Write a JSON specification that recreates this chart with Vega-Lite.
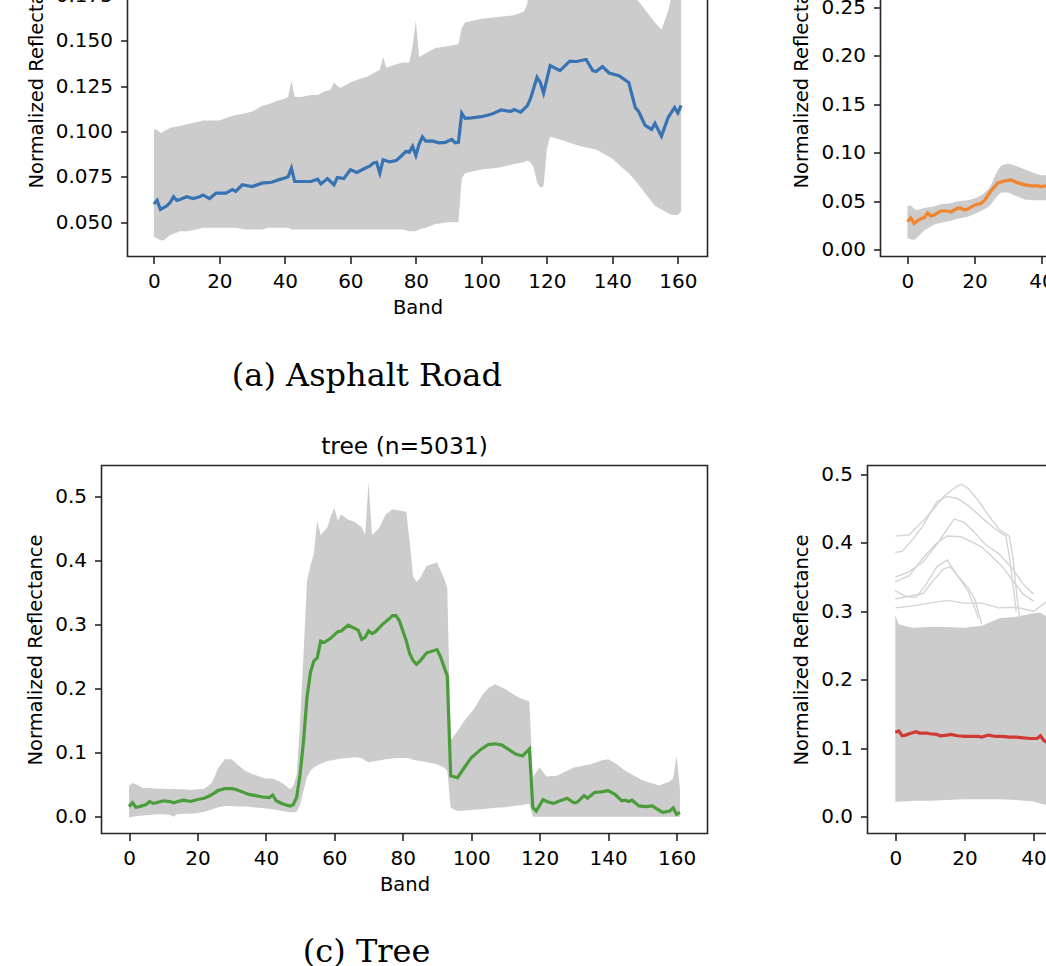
{
  "$schema": "https://vega.github.io/schema/vega-lite/v6.json",
  "background": "white",
  "padding": {"left": -61.5, "top": -112.5, "right": -425, "bottom": -3},
  "config": {
    "view": {"stroke": "#262626", "strokeWidth": 1.6},
    "axis": {"grid": false, "domain": false, "tickSize": 7, "tickWidth": 1.6, "tickColor": "#262626", "labelFont": "DejaVu Sans", "labelFontSize": 20, "labelColor": "#000000", "labelPadding": 8, "labelOverlap": false, "labelFlush": false, "titleFont": "DejaVu Sans", "titleFontSize": 19.5, "titleFontWeight": "normal", "titleColor": "#000000"},
    "axisX": {"titlePadding": 7},
    "axisY": {"titlePadding": 9},
    "title": {"font": "DejaVu Sans", "fontSize": 23.4, "fontWeight": "normal", "color": "#000000", "offset": 6, "frame": "group", "anchor": "middle"}
  },
  "datasets": {
    "spacer": [{}],
    "asphalt_env": [
      {"band":0,"lo":0.042,"hi":0.101},{"band":1,"lo":0.041,"hi":0.101},{"band":2,"lo":0.040,"hi":0.099},{"band":3,"lo":0.040,"hi":0.100},{"band":5,"lo":0.043,"hi":0.102},{"band":8,"lo":0.045,"hi":0.103},{"band":10,"lo":0.045,"hi":0.104},{"band":13,"lo":0.046,"hi":0.105},{"band":15,"lo":0.047,"hi":0.106},{"band":18,"lo":0.047,"hi":0.106},{"band":20,"lo":0.047,"hi":0.106},{"band":23,"lo":0.047,"hi":0.108},{"band":25,"lo":0.047,"hi":0.109},{"band":28,"lo":0.046,"hi":0.110},{"band":30,"lo":0.046,"hi":0.111},{"band":33,"lo":0.046,"hi":0.114},{"band":35,"lo":0.047,"hi":0.115},{"band":38,"lo":0.047,"hi":0.117},{"band":40,"lo":0.047,"hi":0.118},{"band":41,"lo":0.047,"hi":0.119},{"band":42,"lo":0.046,"hi":0.128},{"band":43,"lo":0.046,"hi":0.119},{"band":45,"lo":0.046,"hi":0.119},{"band":48,"lo":0.046,"hi":0.120},{"band":50,"lo":0.046,"hi":0.120},{"band":52,"lo":0.046,"hi":0.122},{"band":54,"lo":0.046,"hi":0.123},{"band":55,"lo":0.046,"hi":0.127},{"band":56,"lo":0.046,"hi":0.125},{"band":57,"lo":0.046,"hi":0.124},{"band":60,"lo":0.046,"hi":0.127},{"band":63,"lo":0.046,"hi":0.129},{"band":65,"lo":0.046,"hi":0.130},{"band":68,"lo":0.046,"hi":0.133},{"band":69,"lo":0.046,"hi":0.134},{"band":70,"lo":0.046,"hi":0.141},{"band":71,"lo":0.046,"hi":0.135},{"band":74,"lo":0.046,"hi":0.137},{"band":76,"lo":0.046,"hi":0.138},{"band":78,"lo":0.045,"hi":0.138},{"band":79,"lo":0.045,"hi":0.147},{"band":80,"lo":0.045,"hi":0.161},{"band":81,"lo":0.046,"hi":0.141},{"band":83,"lo":0.047,"hi":0.143},{"band":86,"lo":0.049,"hi":0.146},{"band":90,"lo":0.050,"hi":0.147},{"band":93,"lo":0.050,"hi":0.148},{"band":94,"lo":0.074,"hi":0.157},{"band":95,"lo":0.077,"hi":0.160},{"band":100,"lo":0.079,"hi":0.162},{"band":105,"lo":0.080,"hi":0.163},{"band":110,"lo":0.082,"hi":0.164},{"band":113,"lo":0.083,"hi":0.166},{"band":114,"lo":0.084,"hi":0.170},{"band":115,"lo":0.083,"hi":0.185},{"band":116,"lo":0.080,"hi":0.195},{"band":117,"lo":0.072,"hi":0.202},{"band":118,"lo":0.069,"hi":0.207},{"band":119,"lo":0.070,"hi":0.208},{"band":120,"lo":0.090,"hi":0.214},{"band":121,"lo":0.097,"hi":0.219},{"band":125,"lo":0.095,"hi":0.223},{"band":130,"lo":0.092,"hi":0.224},{"band":135,"lo":0.090,"hi":0.222},{"band":140,"lo":0.085,"hi":0.216},{"band":143,"lo":0.080,"hi":0.206},{"band":145,"lo":0.077,"hi":0.190},{"band":147,"lo":0.073,"hi":0.174},{"band":150,"lo":0.066,"hi":0.167},{"band":153,"lo":0.059,"hi":0.160},{"band":155,"lo":0.057,"hi":0.156},{"band":157,"lo":0.055,"hi":0.166},{"band":158,"lo":0.054,"hi":0.174},{"band":160,"lo":0.054,"hi":0.195},{"band":161,"lo":0.056,"hi":0.210}
    ],
    "asphalt_mean": [
      {"band":0,"r":0.060},{"band":1,"r":0.062},{"band":2,"r":0.057},{"band":3,"r":0.058},{"band":4,"r":0.059},{"band":5,"r":0.061},{"band":6,"r":0.064},{"band":7,"r":0.062},{"band":8,"r":0.0625},{"band":10,"r":0.064},{"band":12,"r":0.063},{"band":14,"r":0.064},{"band":15,"r":0.065},{"band":17,"r":0.063},{"band":19,"r":0.066},{"band":22,"r":0.066},{"band":24,"r":0.068},{"band":25,"r":0.067},{"band":27,"r":0.0706},{"band":30,"r":0.0696},{"band":33,"r":0.0715},{"band":36,"r":0.072},{"band":38,"r":0.0733},{"band":40,"r":0.0743},{"band":41,"r":0.075},{"band":42,"r":0.0798},{"band":43,"r":0.0724},{"band":45,"r":0.0724},{"band":48,"r":0.0724},{"band":50,"r":0.0737},{"band":51,"r":0.0711},{"band":53,"r":0.074},{"band":55,"r":0.0706},{"band":56,"r":0.0746},{"band":58,"r":0.074},{"band":60,"r":0.0789},{"band":62,"r":0.0774},{"band":64,"r":0.0793},{"band":66,"r":0.081},{"band":67,"r":0.0826},{"band":68,"r":0.083},{"band":69,"r":0.077},{"band":70,"r":0.0844},{"band":72,"r":0.0832},{"band":74,"r":0.084},{"band":75,"r":0.0855},{"band":77,"r":0.089},{"band":78,"r":0.0885},{"band":79,"r":0.0918},{"band":80,"r":0.0867},{"band":81,"r":0.093},{"band":82,"r":0.097},{"band":83,"r":0.0946},{"band":85,"r":0.0948},{"band":87,"r":0.0937},{"band":89,"r":0.094},{"band":91,"r":0.0956},{"band":92,"r":0.0937},{"band":93,"r":0.094},{"band":94,"r":0.110},{"band":95,"r":0.1072},{"band":97,"r":0.1075},{"band":100,"r":0.1081},{"band":103,"r":0.1094},{"band":106,"r":0.1118},{"band":109,"r":0.111},{"band":110,"r":0.112},{"band":112,"r":0.1106},{"band":114,"r":0.1141},{"band":115,"r":0.118},{"band":117,"r":0.1298},{"band":118,"r":0.127},{"band":119,"r":0.1211},{"band":121,"r":0.1363},{"band":124,"r":0.1335},{"band":127,"r":0.1387},{"band":129,"r":0.1385},{"band":132,"r":0.1396},{"band":134,"r":0.1335},{"band":135,"r":0.133},{"band":137,"r":0.1357},{"band":139,"r":0.1322},{"band":142,"r":0.1307},{"band":145,"r":0.127},{"band":146,"r":0.120},{"band":147,"r":0.1132},{"band":148,"r":0.111},{"band":150,"r":0.1033},{"band":152,"r":0.1011},{"band":153,"r":0.1044},{"band":155,"r":0.0974},{"band":157,"r":0.1076},{"band":159,"r":0.1132},{"band":160,"r":0.1102},{"band":161,"r":0.1144}
    ],
    "orange_env": [
      {"band":0,"lo":0.012,"hi":0.045},{"band":1,"lo":0.011,"hi":0.046},{"band":2,"lo":0.010,"hi":0.042},{"band":3,"lo":0.013,"hi":0.041},{"band":5,"lo":0.020,"hi":0.043},{"band":8,"lo":0.026,"hi":0.045},{"band":10,"lo":0.028,"hi":0.047},{"band":13,"lo":0.030,"hi":0.048},{"band":15,"lo":0.032,"hi":0.050},{"band":18,"lo":0.034,"hi":0.051},{"band":20,"lo":0.037,"hi":0.053},{"band":22,"lo":0.040,"hi":0.056},{"band":24,"lo":0.044,"hi":0.062},{"band":25,"lo":0.047,"hi":0.067},{"band":26,"lo":0.052,"hi":0.075},{"band":27,"lo":0.056,"hi":0.082},{"band":28,"lo":0.059,"hi":0.087},{"band":30,"lo":0.059,"hi":0.089},{"band":32,"lo":0.056,"hi":0.087},{"band":35,"lo":0.052,"hi":0.083},{"band":38,"lo":0.051,"hi":0.079},{"band":40,"lo":0.051,"hi":0.077},{"band":42,"lo":0.051,"hi":0.077},{"band":44,"lo":0.051,"hi":0.076}
    ],
    "orange_mean": [
      {"band":0,"r":0.029},{"band":1,"r":0.033},{"band":2,"r":0.027},{"band":3,"r":0.030},{"band":4,"r":0.032},{"band":5,"r":0.033},{"band":6,"r":0.038},{"band":7,"r":0.035},{"band":8,"r":0.036},{"band":9,"r":0.038},{"band":10,"r":0.040},{"band":12,"r":0.040},{"band":13,"r":0.039},{"band":15,"r":0.043},{"band":16,"r":0.043},{"band":17,"r":0.041},{"band":18,"r":0.042},{"band":20,"r":0.046},{"band":22,"r":0.048},{"band":23,"r":0.051},{"band":24,"r":0.056},{"band":25,"r":0.061},{"band":26,"r":0.065},{"band":27,"r":0.069},{"band":29,"r":0.071},{"band":31,"r":0.072},{"band":33,"r":0.069},{"band":35,"r":0.067},{"band":37,"r":0.066},{"band":39,"r":0.066},{"band":40,"r":0.065},{"band":41,"r":0.066},{"band":42,"r":0.065},{"band":44,"r":0.065}
    ],
    "tree_env": [
      {"band":0,"lo":-0.001,"hi":0.048},{"band":1,"lo":0.000,"hi":0.053},{"band":2,"lo":0.001,"hi":0.051},{"band":4,"lo":0.002,"hi":0.045},{"band":6,"lo":0.003,"hi":0.045},{"band":8,"lo":0.004,"hi":0.044},{"band":10,"lo":0.004,"hi":0.044},{"band":12,"lo":0.003,"hi":0.043},{"band":13,"lo":0.000,"hi":0.044},{"band":14,"lo":0.004,"hi":0.043},{"band":16,"lo":0.005,"hi":0.043},{"band":18,"lo":0.005,"hi":0.042},{"band":20,"lo":0.006,"hi":0.043},{"band":22,"lo":0.008,"hi":0.044},{"band":24,"lo":0.011,"hi":0.052},{"band":25,"lo":0.013,"hi":0.062},{"band":26,"lo":0.015,"hi":0.076},{"band":28,"lo":0.017,"hi":0.090},{"band":30,"lo":0.017,"hi":0.090},{"band":32,"lo":0.016,"hi":0.080},{"band":34,"lo":0.016,"hi":0.072},{"band":36,"lo":0.015,"hi":0.067},{"band":38,"lo":0.014,"hi":0.063},{"band":40,"lo":0.013,"hi":0.060},{"band":42,"lo":0.012,"hi":0.060},{"band":44,"lo":0.010,"hi":0.055},{"band":46,"lo":0.008,"hi":0.048},{"band":47,"lo":0.007,"hi":0.043},{"band":48,"lo":0.007,"hi":0.048},{"band":49,"lo":0.008,"hi":0.066},{"band":50,"lo":0.020,"hi":0.150},{"band":51,"lo":0.041,"hi":0.254},{"band":52,"lo":0.062,"hi":0.368},{"band":53,"lo":0.072,"hi":0.392},{"band":54,"lo":0.077,"hi":0.410},{"band":55,"lo":0.080,"hi":0.462},{"band":56,"lo":0.083,"hi":0.440},{"band":58,"lo":0.087,"hi":0.452},{"band":59,"lo":0.088,"hi":0.470},{"band":60,"lo":0.089,"hi":0.482},{"band":61,"lo":0.090,"hi":0.462},{"band":62,"lo":0.091,"hi":0.472},{"band":64,"lo":0.092,"hi":0.464},{"band":66,"lo":0.093,"hi":0.460},{"band":68,"lo":0.092,"hi":0.452},{"band":69,"lo":0.088,"hi":0.440},{"band":70,"lo":0.085,"hi":0.522},{"band":71,"lo":0.086,"hi":0.440},{"band":73,"lo":0.088,"hi":0.450},{"band":75,"lo":0.090,"hi":0.472},{"band":77,"lo":0.091,"hi":0.480},{"band":79,"lo":0.092,"hi":0.478},{"band":81,"lo":0.092,"hi":0.476},{"band":82,"lo":0.091,"hi":0.430},{"band":83,"lo":0.089,"hi":0.375},{"band":84,"lo":0.088,"hi":0.367},{"band":85,"lo":0.087,"hi":0.372},{"band":87,"lo":0.085,"hi":0.392},{"band":90,"lo":0.082,"hi":0.397},{"band":92,"lo":0.077,"hi":0.373},{"band":93,"lo":0.072,"hi":0.357},{"band":94,"lo":0.014,"hi":0.119},{"band":96,"lo":0.009,"hi":0.134},{"band":98,"lo":0.010,"hi":0.150},{"band":101,"lo":0.011,"hi":0.170},{"band":103,"lo":0.012,"hi":0.188},{"band":105,"lo":0.013,"hi":0.201},{"band":107,"lo":0.014,"hi":0.207},{"band":110,"lo":0.015,"hi":0.199},{"band":114,"lo":0.018,"hi":0.186},{"band":117,"lo":0.020,"hi":0.180},{"band":118,"lo":0.000,"hi":0.061},{"band":119,"lo":0.000,"hi":0.070},{"band":120,"lo":0.000,"hi":0.077},{"band":122,"lo":0.000,"hi":0.063},{"band":125,"lo":0.000,"hi":0.064},{"band":128,"lo":0.000,"hi":0.072},{"band":130,"lo":0.000,"hi":0.077},{"band":133,"lo":0.000,"hi":0.080},{"band":135,"lo":0.000,"hi":0.082},{"band":138,"lo":0.000,"hi":0.088},{"band":140,"lo":0.000,"hi":0.090},{"band":142,"lo":0.000,"hi":0.084},{"band":145,"lo":0.000,"hi":0.072},{"band":148,"lo":0.000,"hi":0.063},{"band":150,"lo":0.000,"hi":0.057},{"band":153,"lo":0.000,"hi":0.052},{"band":155,"lo":0.000,"hi":0.049},{"band":158,"lo":0.000,"hi":0.055},{"band":159,"lo":0.000,"hi":0.060},{"band":160,"lo":0.000,"hi":0.095},{"band":161,"lo":0.000,"hi":0.044}
    ],
    "tree_mean": [
      {"band":0,"r":0.016},{"band":1,"r":0.022},{"band":2,"r":0.015},{"band":3,"r":0.016},{"band":5,"r":0.019},{"band":6,"r":0.024},{"band":7,"r":0.021},{"band":8,"r":0.022},{"band":10,"r":0.025},{"band":12,"r":0.024},{"band":13,"r":0.022},{"band":15,"r":0.025},{"band":16,"r":0.026},{"band":18,"r":0.024},{"band":20,"r":0.027},{"band":22,"r":0.029},{"band":24,"r":0.034},{"band":26,"r":0.041},{"band":28,"r":0.044},{"band":30,"r":0.044},{"band":31,"r":0.043},{"band":33,"r":0.039},{"band":35,"r":0.035},{"band":37,"r":0.033},{"band":39,"r":0.031},{"band":41,"r":0.030},{"band":42,"r":0.034},{"band":43,"r":0.025},{"band":45,"r":0.020},{"band":47,"r":0.017},{"band":48,"r":0.019},{"band":49,"r":0.031},{"band":50,"r":0.067},{"band":51,"r":0.119},{"band":52,"r":0.186},{"band":53,"r":0.225},{"band":54,"r":0.243},{"band":55,"r":0.248},{"band":56,"r":0.274},{"band":57,"r":0.272},{"band":59,"r":0.279},{"band":61,"r":0.289},{"band":62,"r":0.290},{"band":64,"r":0.299},{"band":66,"r":0.294},{"band":67,"r":0.291},{"band":68,"r":0.277},{"band":69,"r":0.280},{"band":70,"r":0.290},{"band":71,"r":0.286},{"band":72,"r":0.289},{"band":74,"r":0.300},{"band":76,"r":0.309},{"band":77,"r":0.314},{"band":78,"r":0.314},{"band":79,"r":0.306},{"band":81,"r":0.275},{"band":82,"r":0.255},{"band":83,"r":0.244},{"band":84,"r":0.238},{"band":85,"r":0.243},{"band":87,"r":0.256},{"band":90,"r":0.261},{"band":91,"r":0.250},{"band":93,"r":0.220},{"band":94,"r":0.064},{"band":96,"r":0.061},{"band":98,"r":0.077},{"band":100,"r":0.092},{"band":103,"r":0.106},{"band":105,"r":0.113},{"band":107,"r":0.114},{"band":109,"r":0.112},{"band":111,"r":0.105},{"band":113,"r":0.098},{"band":115,"r":0.095},{"band":117,"r":0.106},{"band":118,"r":0.015},{"band":119,"r":0.009},{"band":121,"r":0.027},{"band":122,"r":0.024},{"band":124,"r":0.021},{"band":126,"r":0.025},{"band":128,"r":0.029},{"band":130,"r":0.022},{"band":131,"r":0.023},{"band":133,"r":0.033},{"band":134,"r":0.029},{"band":136,"r":0.038},{"band":138,"r":0.039},{"band":140,"r":0.041},{"band":142,"r":0.035},{"band":144,"r":0.025},{"band":145,"r":0.026},{"band":146,"r":0.024},{"band":147,"r":0.026},{"band":149,"r":0.017},{"band":151,"r":0.016},{"band":153,"r":0.017},{"band":154,"r":0.013},{"band":156,"r":0.007},{"band":158,"r":0.009},{"band":159,"r":0.014},{"band":160,"r":0.004},{"band":161,"r":0.007}
    ],
    "red_env": [
      {"band":0,"lo":0.021,"hi":0.294},{"band":1,"lo":0.022,"hi":0.281},{"band":3,"lo":0.022,"hi":0.278},{"band":5,"lo":0.023,"hi":0.276},{"band":10,"lo":0.023,"hi":0.277},{"band":15,"lo":0.024,"hi":0.277},{"band":20,"lo":0.025,"hi":0.276},{"band":25,"lo":0.025,"hi":0.279},{"band":28,"lo":0.025,"hi":0.285},{"band":30,"lo":0.025,"hi":0.290},{"band":35,"lo":0.024,"hi":0.292},{"band":40,"lo":0.022,"hi":0.297},{"band":42,"lo":0.019,"hi":0.298},{"band":44,"lo":0.016,"hi":0.292},{"band":46,"lo":0.015,"hi":0.290}
    ],
    "red_outliers": [
      {"id":"a","band":0,"r":0.410},{"id":"a","band":4,"r":0.412},{"id":"a","band":8,"r":0.432},{"id":"a","band":12,"r":0.455},{"id":"a","band":14,"r":0.468},{"id":"a","band":17,"r":0.480},{"id":"a","band":19,"r":0.486},{"id":"a","band":21,"r":0.480},{"id":"a","band":24,"r":0.462},{"id":"a","band":27,"r":0.440},{"id":"a","band":30,"r":0.420},{"id":"a","band":33,"r":0.410},{"id":"a","band":34,"r":0.380},{"id":"a","band":35,"r":0.330},{"id":"a","band":36,"r":0.290},
      {"id":"b","band":0,"r":0.386},{"id":"b","band":2,"r":0.388},{"id":"b","band":5,"r":0.405},{"id":"b","band":8,"r":0.425},{"id":"b","band":12,"r":0.460},{"id":"b","band":15,"r":0.468},{"id":"b","band":18,"r":0.465},{"id":"b","band":21,"r":0.455},{"id":"b","band":25,"r":0.437},{"id":"b","band":29,"r":0.420},{"id":"b","band":32,"r":0.410},{"id":"b","band":33,"r":0.380},{"id":"b","band":35,"r":0.300},
      {"id":"c","band":0,"r":0.350},{"id":"c","band":4,"r":0.358},{"id":"c","band":8,"r":0.372},{"id":"c","band":12,"r":0.398},{"id":"c","band":15,"r":0.420},{"id":"c","band":17,"r":0.435},{"id":"c","band":20,"r":0.430},{"id":"c","band":23,"r":0.415},{"id":"c","band":26,"r":0.398},{"id":"c","band":30,"r":0.384},{"id":"c","band":34,"r":0.362},{"id":"c","band":37,"r":0.340},{"id":"c","band":40,"r":0.325},
      {"id":"d","band":0,"r":0.343},{"id":"d","band":4,"r":0.352},{"id":"d","band":8,"r":0.378},{"id":"d","band":12,"r":0.400},{"id":"d","band":15,"r":0.410},{"id":"d","band":19,"r":0.409},{"id":"d","band":22,"r":0.402},{"id":"d","band":25,"r":0.394},{"id":"d","band":28,"r":0.380},{"id":"d","band":31,"r":0.365},{"id":"d","band":34,"r":0.345},{"id":"d","band":37,"r":0.325},{"id":"d","band":40,"r":0.315},
      {"id":"e","band":0,"r":0.330},{"id":"e","band":3,"r":0.322},{"id":"e","band":6,"r":0.320},{"id":"e","band":9,"r":0.340},{"id":"e","band":12,"r":0.365},{"id":"e","band":15,"r":0.375},{"id":"e","band":18,"r":0.352},{"id":"e","band":21,"r":0.335},{"id":"e","band":23,"r":0.318},{"id":"e","band":25,"r":0.281},
      {"id":"f","band":0,"r":0.318},{"id":"f","band":4,"r":0.322},{"id":"f","band":8,"r":0.326},{"id":"f","band":11,"r":0.345},{"id":"f","band":14,"r":0.362},{"id":"f","band":16,"r":0.365},{"id":"f","band":19,"r":0.345},{"id":"f","band":21,"r":0.330},{"id":"f","band":23,"r":0.305},{"id":"f","band":24,"r":0.290},
      {"id":"g","band":0,"r":0.305},{"id":"g","band":5,"r":0.308},{"id":"g","band":10,"r":0.312},{"id":"g","band":15,"r":0.316},{"id":"g","band":20,"r":0.312},{"id":"g","band":25,"r":0.312},{"id":"g","band":30,"r":0.305},{"id":"g","band":35,"r":0.306},{"id":"g","band":40,"r":0.300},{"id":"g","band":44,"r":0.315}
    ],
    "red_mean": [
      {"band":0,"r":0.123},{"band":1,"r":0.125},{"band":2,"r":0.118},{"band":3,"r":0.119},{"band":4,"r":0.121},{"band":6,"r":0.124},{"band":7,"r":0.122},{"band":9,"r":0.122},{"band":10,"r":0.121},{"band":12,"r":0.120},{"band":13,"r":0.118},{"band":15,"r":0.119},{"band":16,"r":0.120},{"band":18,"r":0.118},{"band":20,"r":0.117},{"band":22,"r":0.117},{"band":24,"r":0.117},{"band":25,"r":0.116},{"band":27,"r":0.119},{"band":29,"r":0.117},{"band":31,"r":0.117},{"band":33,"r":0.116},{"band":35,"r":0.116},{"band":37,"r":0.115},{"band":39,"r":0.114},{"band":41,"r":0.114},{"band":42,"r":0.118},{"band":43,"r":0.111},{"band":44,"r":0.108},{"band":46,"r":0.107}
    ]
  },
  "concat": [
    {
      "hconcat": [
        {
          "data": {"name": "spacer"},
          "width": 3.5, "height": 1,
          "view": {"stroke": null},
          "mark": {"type": "rect", "opacity": 0}
        },
        {
          "title": {"text": "(a) Asphalt Road", "orient": "bottom", "font": "DejaVu Serif", "fontSize": 32, "fontWeight": "normal", "offset": 43, "frame": "bounds", "anchor": "middle"},
          "vconcat": [
            {
              "width": 580, "height": 368,
              "layer": [
                {
                  "data": {"name": "asphalt_env"},
                  "mark": {"type": "area", "color": "#cccccc", "clip": true},
                  "encoding": {
                    "x": {"field": "band", "type": "quantitative", "scale": {"domain": [-8.05, 169.05], "nice": false, "zero": false}, "axis": {"values": [0, 20, 40, 60, 80, 100, 120, 140, 160], "title": "Band"}},
                    "y": {"field": "lo", "type": "quantitative", "scale": {"domain": [0.0311, 0.2338], "nice": false, "zero": false}, "axis": {"values": [0.05, 0.075, 0.1, 0.125, 0.15, 0.175, 0.2, 0.225], "format": ".3f", "title": "Normalized Reflectance"}},
                    "y2": {"field": "hi"}
                  }
                },
                {
                  "data": {"name": "asphalt_mean"},
                  "mark": {"type": "line", "color": "#3773b3", "strokeWidth": 3.2, "clip": true},
                  "encoding": {
                    "x": {"field": "band", "type": "quantitative", "scale": {"domain": [-8.05, 169.05], "nice": false, "zero": false}, "axis": {"values": [0, 20, 40, 60, 80, 100, 120, 140, 160], "title": "Band"}},
                    "y": {"field": "r", "type": "quantitative", "scale": {"domain": [0.0311, 0.2338], "nice": false, "zero": false}, "axis": {"values": [0.05, 0.075, 0.1, 0.125, 0.15, 0.175, 0.2, 0.225], "format": ".3f", "title": "Normalized Reflectance"}}
                  }
                }
              ]
            }
          ]
        },
        {
          "vconcat": [
            {
              "width": 593, "height": 368,
              "layer": [
                {
                  "data": {"name": "orange_env"},
                  "mark": {"type": "area", "color": "#cccccc", "clip": true},
                  "encoding": {
                    "x": {"field": "band", "type": "quantitative", "scale": {"domain": [-8.05, 169.05], "nice": false, "zero": false}, "axis": {"values": [0, 20, 40, 60, 80, 100, 120, 140, 160], "title": "Band"}},
                    "y": {"field": "lo", "type": "quantitative", "scale": {"domain": [-0.0069, 0.3726], "nice": false, "zero": false}, "axis": {"values": [0, 0.05, 0.1, 0.15, 0.2, 0.25, 0.3, 0.35], "format": ".2f", "title": "Normalized Reflectance"}},
                    "y2": {"field": "hi"}
                  }
                },
                {
                  "data": {"name": "orange_mean"},
                  "mark": {"type": "line", "color": "#f0852d", "strokeWidth": 3.2, "clip": true},
                  "encoding": {
                    "x": {"field": "band", "type": "quantitative", "scale": {"domain": [-8.05, 169.05], "nice": false, "zero": false}, "axis": {"values": [0, 20, 40, 60, 80, 100, 120, 140, 160], "title": "Band"}},
                    "y": {"field": "r", "type": "quantitative", "scale": {"domain": [-0.0069, 0.3726], "nice": false, "zero": false}, "axis": {"values": [0, 0.05, 0.1, 0.15, 0.2, 0.25, 0.3, 0.35], "format": ".2f", "title": "Normalized Reflectance"}}
                  }
                }
              ]
            }
          ]
        }
      ],
      "spacing": 82
    },
    {
      "hconcat": [
        {
          "data": {"name": "spacer"},
          "width": 4, "height": 1,
          "view": {"stroke": null},
          "mark": {"type": "rect", "opacity": 0}
        },
        {
          "title": {"text": "(c) Tree", "orient": "bottom", "font": "DejaVu Serif", "fontSize": 32, "fontWeight": "normal", "offset": 42.5, "frame": "bounds", "anchor": "middle"},
          "vconcat": [
            {
              "title": "tree (n=5031)",
              "width": 606, "height": 368,
              "layer": [
                {
                  "data": {"name": "tree_env"},
                  "mark": {"type": "area", "color": "#cccccc", "clip": true},
                  "encoding": {
                    "x": {"field": "band", "type": "quantitative", "scale": {"domain": [-8.05, 169.05], "nice": false, "zero": false}, "axis": {"values": [0, 20, 40, 60, 80, 100, 120, 140, 160], "title": "Band"}},
                    "y": {"field": "lo", "type": "quantitative", "scale": {"domain": [-0.026, 0.5483], "nice": false, "zero": false}, "axis": {"values": [0, 0.1, 0.2, 0.3, 0.4, 0.5], "format": ".1f", "title": "Normalized Reflectance"}},
                    "y2": {"field": "hi"}
                  }
                },
                {
                  "data": {"name": "tree_mean"},
                  "mark": {"type": "line", "color": "#4a9d3a", "strokeWidth": 3.2, "clip": true},
                  "encoding": {
                    "x": {"field": "band", "type": "quantitative", "scale": {"domain": [-8.05, 169.05], "nice": false, "zero": false}, "axis": {"values": [0, 20, 40, 60, 80, 100, 120, 140, 160], "title": "Band"}},
                    "y": {"field": "r", "type": "quantitative", "scale": {"domain": [-0.026, 0.5483], "nice": false, "zero": false}, "axis": {"values": [0, 0.1, 0.2, 0.3, 0.4, 0.5], "format": ".1f", "title": "Normalized Reflectance"}}
                  }
                }
              ]
            }
          ]
        },
        {
          "vconcat": [
            {
              "title": " ",
              "width": 612, "height": 368,
              "layer": [
                {
                  "data": {"name": "red_env"},
                  "mark": {"type": "area", "color": "#cccccc", "clip": true},
                  "encoding": {
                    "x": {"field": "band", "type": "quantitative", "scale": {"domain": [-8.05, 169.05], "nice": false, "zero": false}, "axis": {"values": [0, 20, 40, 60, 80, 100, 120, 140, 160], "title": "Band"}},
                    "y": {"field": "lo", "type": "quantitative", "scale": {"domain": [-0.0249, 0.5132], "nice": false, "zero": false}, "axis": {"values": [0, 0.1, 0.2, 0.3, 0.4, 0.5], "format": ".1f", "title": "Normalized Reflectance"}},
                    "y2": {"field": "hi"}
                  }
                },
                {
                  "data": {"name": "red_outliers"},
                  "mark": {"type": "line", "color": "#d4d4d4", "strokeWidth": 1.4, "clip": true},
                  "encoding": {
                    "x": {"field": "band", "type": "quantitative", "scale": {"domain": [-8.05, 169.05], "nice": false, "zero": false}, "axis": {"values": [0, 20, 40, 60, 80, 100, 120, 140, 160], "title": "Band"}},
                    "y": {"field": "r", "type": "quantitative", "scale": {"domain": [-0.0249, 0.5132], "nice": false, "zero": false}, "axis": {"values": [0, 0.1, 0.2, 0.3, 0.4, 0.5], "format": ".1f", "title": "Normalized Reflectance"}},
                    "detail": {"field": "id", "type": "nominal"}
                  }
                },
                {
                  "data": {"name": "red_mean"},
                  "mark": {"type": "line", "color": "#cf3a32", "strokeWidth": 3.2, "clip": true},
                  "encoding": {
                    "x": {"field": "band", "type": "quantitative", "scale": {"domain": [-8.05, 169.05], "nice": false, "zero": false}, "axis": {"values": [0, 20, 40, 60, 80, 100, 120, 140, 160], "title": "Band"}},
                    "y": {"field": "r", "type": "quantitative", "scale": {"domain": [-0.0249, 0.5132], "nice": false, "zero": false}, "axis": {"values": [0, 0.1, 0.2, 0.3, 0.4, 0.5], "format": ".1f", "title": "Normalized Reflectance"}}
                  }
                }
              ]
            }
          ]
        }
      ],
      "spacing": 82
    }
  ],
  "columns": 1,
  "align": "none",
  "spacing": 40
}
